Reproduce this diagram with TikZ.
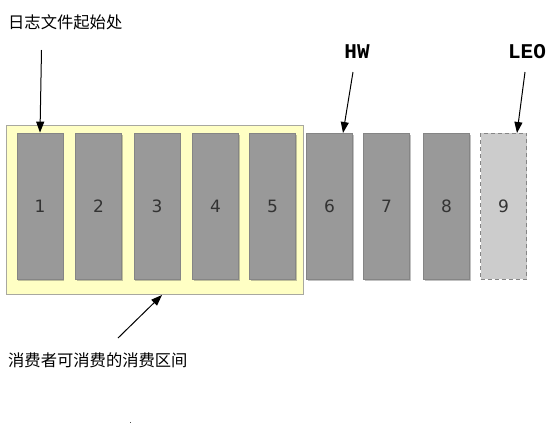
\documentclass[tikz,border=0pt]{standalone}
\usepackage{fontspec}
\setmainfont{DejaVu Sans}
\newfontfamily\cjk{Noto Sans CJK SC}
\newfontfamily\monob{Liberation Mono}
\usetikzlibrary{arrows.meta,shadows}
\definecolor{bargray}{HTML}{999999}
\definecolor{barline}{HTML}{858585}
\definecolor{lightbar}{HTML}{CCCCCC}
\definecolor{rangefill}{HTML}{FFFFC4}
\definecolor{rangeline}{HTML}{A8A8A0}
\begin{document}
\begin{tikzpicture}[x=1pt,y=-1pt,
  bar/.style={draw=barline, line width=0.8pt, fill=bargray, minimum width=46pt, minimum height=146pt, inner sep=0pt,
    font=\fontsize{17}{17}\selectfont, text=black!80,
    drop shadow={shadow xshift=1.2pt, shadow yshift=-2pt, opacity=0.35, fill=black!70}},
  ghost/.style={draw=barline, dashed, dash pattern=on 4pt off 3pt, line width=0.9pt, fill=lightbar, minimum width=46pt, minimum height=146pt, inner sep=0pt,
    font=\fontsize{17}{17}\selectfont, text=black!80},
  arr/.style={-{Triangle[length=11pt,width=8pt]}, line width=1pt},
  cjklabel/.style={font=\cjk\fontsize{16.3}{16.3}\selectfont, inner sep=0pt, anchor=west},
  codelabel/.style={font=\monob\bfseries\fontsize{21}{21}\selectfont, inner sep=0pt}
]
\useasboundingbox (0,0) rectangle (556,429);
\node[draw=rangeline, line width=1pt, fill=rangefill, minimum width=297pt, minimum height=169pt, inner sep=0pt] (range) at (154.5,209.5) {};
\node[bar] (b1) at (40,206) {1};
\node[bar] (b2) at (98.5,206) {2};
\node[bar] (b3) at (157,206) {3};
\node[bar] (b4) at (215.5,206) {4};
\node[bar] (b5) at (272.5,206) {5};
\node[bar] (b6) at (329.5,206) {6};
\node[bar] (b7) at (386.5,206) {7};
\node[bar] (b8) at (446.5,206) {8};
\node[ghost] (b9) at (503.5,206) {9};
\node[cjklabel] (start) at (8,22) {日志文件起始处};
\node[codelabel] (hw) at (357,52) {HW};
\node[codelabel] (leo) at (527,52) {LEO};
\node[cjklabel] (consume) at (8,360) {消费者可消费的消费区间};
\coordinate (s1) at (41.5,50);
\coordinate (hws) at (353,72);
\coordinate (leos) at (525,72);
\coordinate (cs) at (118,338);
\coordinate (ce) at (162,295);
\draw[arr] (s1) -- (b1.north);
\draw[arr] (hws) -- (343,133);
\draw[arr] (leos) -- (517,133);
\draw[arr] (cs) -- (ce);
\fill[black!70] (129.5,421.5) rectangle (130.7,423);
\end{tikzpicture}
\end{document}
